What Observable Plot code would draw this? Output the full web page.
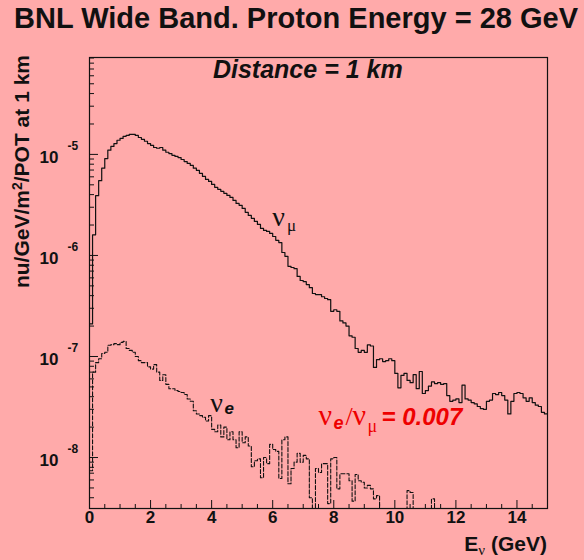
<!DOCTYPE html>
<html>
<head>
<meta charset="utf-8">
<script src="https://cdn.jsdelivr.net/npm/d3@7"></script>
<script src="https://cdn.jsdelivr.net/npm/@observablehq/plot@0.6"></script>
<style>
  html, body { margin: 0; padding: 0; background: #ffaaaa; }
  #wrap { position: relative; width: 584px; height: 560px; overflow: hidden; background: #ffaaaa;
          font-family: "Liberation Sans", Arial, Helvetica, sans-serif; color: #111; }
  #title { position: absolute; left: 14px; top: 2px; font-size: 29px; font-weight: bold; white-space: nowrap; }
  #ylab { position: absolute; left: 10px; top: 55px; font-size: 21px; font-weight: bold; white-space: nowrap;
          line-height: 24px; transform-origin: 0 0; transform: rotate(-90deg) translateX(-100%); }
  #ylab sup { font-size: 14px; vertical-align: 7px; line-height: 0; }
  #xlab { position: absolute; right: 37px; top: 532px; font-size: 21px; font-weight: bold; white-space: nowrap; line-height: 24px; }
  #xlab .nu { font-family: "Liberation Serif", "Times New Roman", serif; font-weight: normal; font-size: 15px; vertical-align: -4px; line-height: 0; }
  #chart { position: absolute; left: 0; top: 0; }
</style>
</head>
<body>
<div id="wrap">
  <div id="chart"></div>
  <div id="title">BNL Wide Band. Proton Energy = 28 GeV</div>
  <div id="ylab">nu/GeV/m<sup>2</sup>/POT at 1 km</div>
  <div id="xlab">E<span class="nu">ν</span> (GeV)</div>
</div>
<script>
// ---- data ----
const binWidth = 0.1;      // GeV
const xMax = 15;

// nu_mu flux per 0.1 GeV bin, bins starting at 0.0 GeV
const numuFlux = [
  2.1e-7, 1.6e-6, 3.9e-6, 5.5e-6, 7.3e-6, 9.1e-6, 1.10e-5, 1.20e-5, 1.28e-5, 1.38e-5,
  1.44e-5, 1.51e-5, 1.54e-5, 1.58e-5, 1.58e-5, 1.54e-5, 1.47e-5, 1.41e-5, 1.35e-5, 1.28e-5,
  1.23e-5, 1.17e-5, 1.15e-5, 1.17e-5, 1.10e-5, 1.05e-5, 1.02e-5, 9.8e-6, 9.55e-6, 9.3e-6,
  8.9e-6, 8.5e-6, 8.15e-6, 7.8e-6, 7.3e-6, 6.95e-6, 6.5e-6, 6.05e-6, 5.65e-6, 5.4e-6,
  5.05e-6, 4.72e-6, 4.51e-6, 4.31e-6, 4.12e-6, 3.93e-6, 3.75e-6, 3.50e-6, 3.27e-6, 3.13e-6,
  2.92e-6, 2.67e-6, 2.49e-6, 2.33e-6, 2.17e-6, 2.03e-6, 1.85e-6, 1.77e-6, 1.73e-6, 1.65e-6,
  1.54e-6, 1.41e-6, 1.34e-6, 1.07e-6, 9.8e-7, 7.8e-7, 7.6e-7, 7.4e-7, 6.2e-7, 5.65e-7,
  5.5e-7, 5.15e-7, 4.8e-7, 4.2e-7, 4.1e-7, 4.1e-7, 3.9e-7, 3.75e-7, 3.65e-7, 2.8e-7,
  2.9e-7, 2.8e-7, 2.25e-7, 2.15e-7, 2.0e-7, 1.6e-7, 1.55e-7, 1.2e-7, 1.1e-7, 1.15e-7,
  1.1e-7, 1.3e-7, 1.27e-7, 7.8e-8, 9.3e-8, 9.5e-8, 8.9e-8, 9.1e-8, 9.5e-8, 9.1e-8,
  6.8e-8, 4.9e-8, 6.5e-8, 6.8e-8, 5.8e-8, 5.5e-8, 6.6e-8, 4.8e-8, 7.1e-8, 4.3e-8,
  4.6e-8, 5.1e-8, 5.6e-8, 5.4e-8, 5.5e-8, 5.3e-8, 5.4e-8, 4.1e-8, 3.6e-8, 3.7e-8,
  3.8e-8, 3.5e-8, 5.2e-8, 3.8e-8, 3.7e-8, 3.5e-8, 3.4e-8, 3.2e-8, 3.05e-8, 3.0e-8,
  3.6e-8, 3.7e-8, 4.3e-8, 4.2e-8, 4.4e-8, 4.1e-8, 3.7e-8, 2.7e-8, 3.6e-8, 4.3e-8,
  4.4e-8, 4.3e-8, 3.9e-8, 3.6e-8, 3.9e-8, 3.5e-8, 3.3e-8, 3.2e-8, 2.8e-8, 2.7e-8
];

// nu_e flux per 0.1 GeV bin (0 = empty bin)
const nueFlux = [
  7.4e-9, 7.0e-8, 8.7e-8, 9.5e-8, 1.07e-7, 1.10e-7, 1.29e-7, 1.31e-7, 1.34e-7, 1.31e-7,
  1.38e-7, 1.41e-7, 1.2e-7, 1.15e-7, 1.10e-7, 1.0e-7, 9.1e-8, 8.7e-8, 8.7e-8, 7.9e-8,
  7.5e-8, 8.3e-8, 7.0e-8, 5.8e-8, 6.6e-8, 5.3e-8, 4.8e-8, 4.8e-8, 4.6e-8, 4.5e-8,
  4.4e-8, 4.2e-8, 3.8e-8, 3.6e-8, 2.9e-8, 2.7e-8, 2.6e-8, 2.5e-8, 2.3e-8, 2.6e-8,
  1.9e-8, 1.8e-8, 2.1e-8, 1.6e-8, 2.0e-8, 1.5e-8, 1.8e-8, 1.5e-8, 1.25e-8, 1.8e-8,
  1.4e-8, 1.6e-8, 1.3e-8, 8.1e-9, 9.3e-9, 9.7e-9, 6.3e-9, 1.0e-8, 8.7e-9, 1.35e-8,
  1.2e-8, 1.15e-8, 6.2e-9, 1.5e-8, 1.6e-8, 5.5e-9, 7.8e-9, 9.0e-9, 1.1e-8, 9.0e-9,
  1.05e-8, 9.7e-9, 4.0e-9, 0, 7.8e-9, 7.1e-9, 8.7e-9, 8.7e-9, 3.5e-9, 9.7e-9,
  1.0e-8, 4.9e-9, 6.9e-9, 6.9e-9, 6.9e-9, 5.9e-9, 3.7e-9, 6.8e-9, 5.9e-9, 5.7e-9,
  5.0e-9, 5.3e-9, 4.9e-9, 3.9e-9, 4.2e-9, 0, 0, 0, 0, 0,
  0, 0, 0, 0, 4.7e-9, 4.5e-9, 0, 0, 0, 0,
  0, 0, 3.9e-9, 0, 0, 0, 0, 0, 0, 0,
  0, 0, 0, 0, 0, 0, 0, 0, 0, 0,
  0, 0, 0, 0, 0, 0, 0, 0, 0, 0,
  0, 0, 0, 0, 0, 0, 0, 0, 0, 0
];

// axis ticks
const xMajorTicks = [0, 2, 4, 6, 8, 10, 12, 14];
const xTickLabels = ["0", "2", "4", "6", "8", "10", "12", "14"];
const xMinorTicks = [0.5, 1, 1.5, 2.5, 3, 3.5, 4.5, 5, 5.5, 6.5, 7, 7.5, 8.5, 9, 9.5, 10.5, 11, 11.5, 12.5, 13, 13.5, 14.5];
const yDecadeExps = [-8, -7, -6, -5];
const yMinorMultipliers = [2, 3, 4, 5, 6, 7, 8, 9];
const yDomain = [3.13e-9, 9.1e-5];

// annotation anchors (data coordinates)
const distanceLabel = [{x: 7.15, y: 6.8e-5, t: "Distance = 1 km"}];
const numuLabel = [{x: 6.19, y: 2.4e-6}];
const nueLabel = [{x: 4.16, y: 3.5e-8}];
const ratioLabel = [{x: 7.5, y: 2.5e-8, value: "= 0.007"}];

// ---- build ----
const W = 584, H = 560;
const mL = 89, mR = 37, mT = 57, mB = 52;
const frameW = W - mL - mR, frameH = H - mT - mB;
const FLOOR = 1e-12;

function histPoints(vals) {
  const pts = vals.map((v, i) => ({e: +(i * binWidth).toFixed(2), v: v > 0 ? v : FLOOR}));
  pts.push({e: xMax, v: pts[pts.length - 1].v});
  return pts;
}
const numuPts = histPoints(numuFlux);
const nuePts = histPoints(nueFlux);

const yMajor = yDecadeExps.map(k => Math.pow(10, k));
const yMinor = [];
for (let k = -9; k <= -5; k++) for (const m of yMinorMultipliers) {
  const v = m * Math.pow(10, k);
  if (v > yDomain[0] && v < yDomain[1]) yMinor.push(v);
}

const ink = "#111";
const sans = "Liberation Sans, Arial, Helvetica, sans-serif";
const serif = "Liberation Serif, Times New Roman, serif";
const red = "#ee0000";

const chart = Plot.plot({
  width: W, height: H,
  marginLeft: mL, marginRight: mR, marginTop: mT, marginBottom: mB,
  style: {background: "transparent", fontFamily: sans, overflow: "visible"},
  x: {domain: [0, xMax], axis: null},
  y: {type: "log", domain: yDomain, axis: null},
  marks: [
    Plot.line(numuPts, {x: "e", y: "v", curve: "step-after", stroke: ink, strokeWidth: 1.2, clip: true}),
    Plot.line(nuePts, {x: "e", y: "v", curve: "step-after", stroke: ink, strokeWidth: 1.1, strokeDasharray: "4,2", clip: true}),
    Plot.frame({stroke: ink, strokeWidth: 1.2}),
    // y ticks pointing inward
    Plot.tickY(yMajor, {y: d => d, stroke: ink, insetRight: frameW - 9}),
    Plot.tickY(yMinor, {y: d => d, stroke: ink, insetRight: frameW - 5}),
    // x ticks pointing inward
    Plot.tickX(xMajorTicks, {x: d => d, stroke: ink, insetTop: frameH - 8}),
    Plot.tickX(xMinorTicks, {x: d => d, stroke: ink, insetTop: frameH - 4}),
    // x tick labels
    Plot.text(xMajorTicks, {x: d => d, frameAnchor: "bottom", dy: 14, text: (d, i) => xTickLabels[i],
      fontSize: 17, fontWeight: "bold", fill: ink}),
    // y tick labels 10^k
    Plot.text(yMajor, {y: d => d, frameAnchor: "left", dx: -31, dy: 3, textAnchor: "end", text: () => "10",
      fontSize: 17, fontWeight: "bold", fill: ink}),
    Plot.text(yMajor, {y: d => d, frameAnchor: "left", dx: -22, dy: -8, textAnchor: "start",
      text: (d, i) => String(yDecadeExps[i]), fontSize: 12, fontWeight: "bold", fill: ink}),
    // Distance label
    Plot.text(distanceLabel, {x: "x", y: "y", text: "t", fontSize: 25, fontWeight: "bold", fontStyle: "italic", fill: ink}),
    // nu_mu label
    Plot.text(numuLabel, {x: "x", y: "y", text: () => "ν", fontFamily: serif, fontSize: 28, fill: ink}),
    Plot.text(numuLabel, {x: "x", y: "y", text: () => "μ", fontFamily: serif, fontSize: 17, dx: 13, dy: 9, fill: ink}),
    // nu_e label
    Plot.text(nueLabel, {x: "x", y: "y", text: () => "ν", fontFamily: serif, fontSize: 28, fill: ink}),
    Plot.text(nueLabel, {x: "x", y: "y", text: () => "e", fontSize: 17, fontWeight: "bold", fontStyle: "italic", dx: 8, dy: 6, textAnchor: "start", fill: ink}),
    // ratio label (red)
    Plot.text(ratioLabel, {x: "x", y: "y", text: () => "ν", fontFamily: serif, fontSize: 30, textAnchor: "start", fill: red, dy: -2}),
    Plot.text(ratioLabel, {x: "x", y: "y", text: () => "e", fontSize: 18, fontWeight: "bold", fontStyle: "italic", textAnchor: "start", dx: 15, dy: 6, fill: red}),
    Plot.text(ratioLabel, {x: "x", y: "y", text: () => "/", fontFamily: serif, fontSize: 26, textAnchor: "start", dx: 27, dy: -1, fill: red}),
    Plot.text(ratioLabel, {x: "x", y: "y", text: () => "ν", fontFamily: serif, fontSize: 30, textAnchor: "start", dx: 34, dy: -2, fill: red}),
    Plot.text(ratioLabel, {x: "x", y: "y", text: () => "μ", fontFamily: serif, fontSize: 18, textAnchor: "start", dx: 49, dy: 9, fill: red}),
    Plot.text(ratioLabel, {x: "x", y: "y", text: "value", fontSize: 24, fontWeight: "bold", fontStyle: "italic", textAnchor: "start", dx: 63, fill: red})
  ]
});
document.getElementById("chart").appendChild(chart);
</script>
</body>
</html>
